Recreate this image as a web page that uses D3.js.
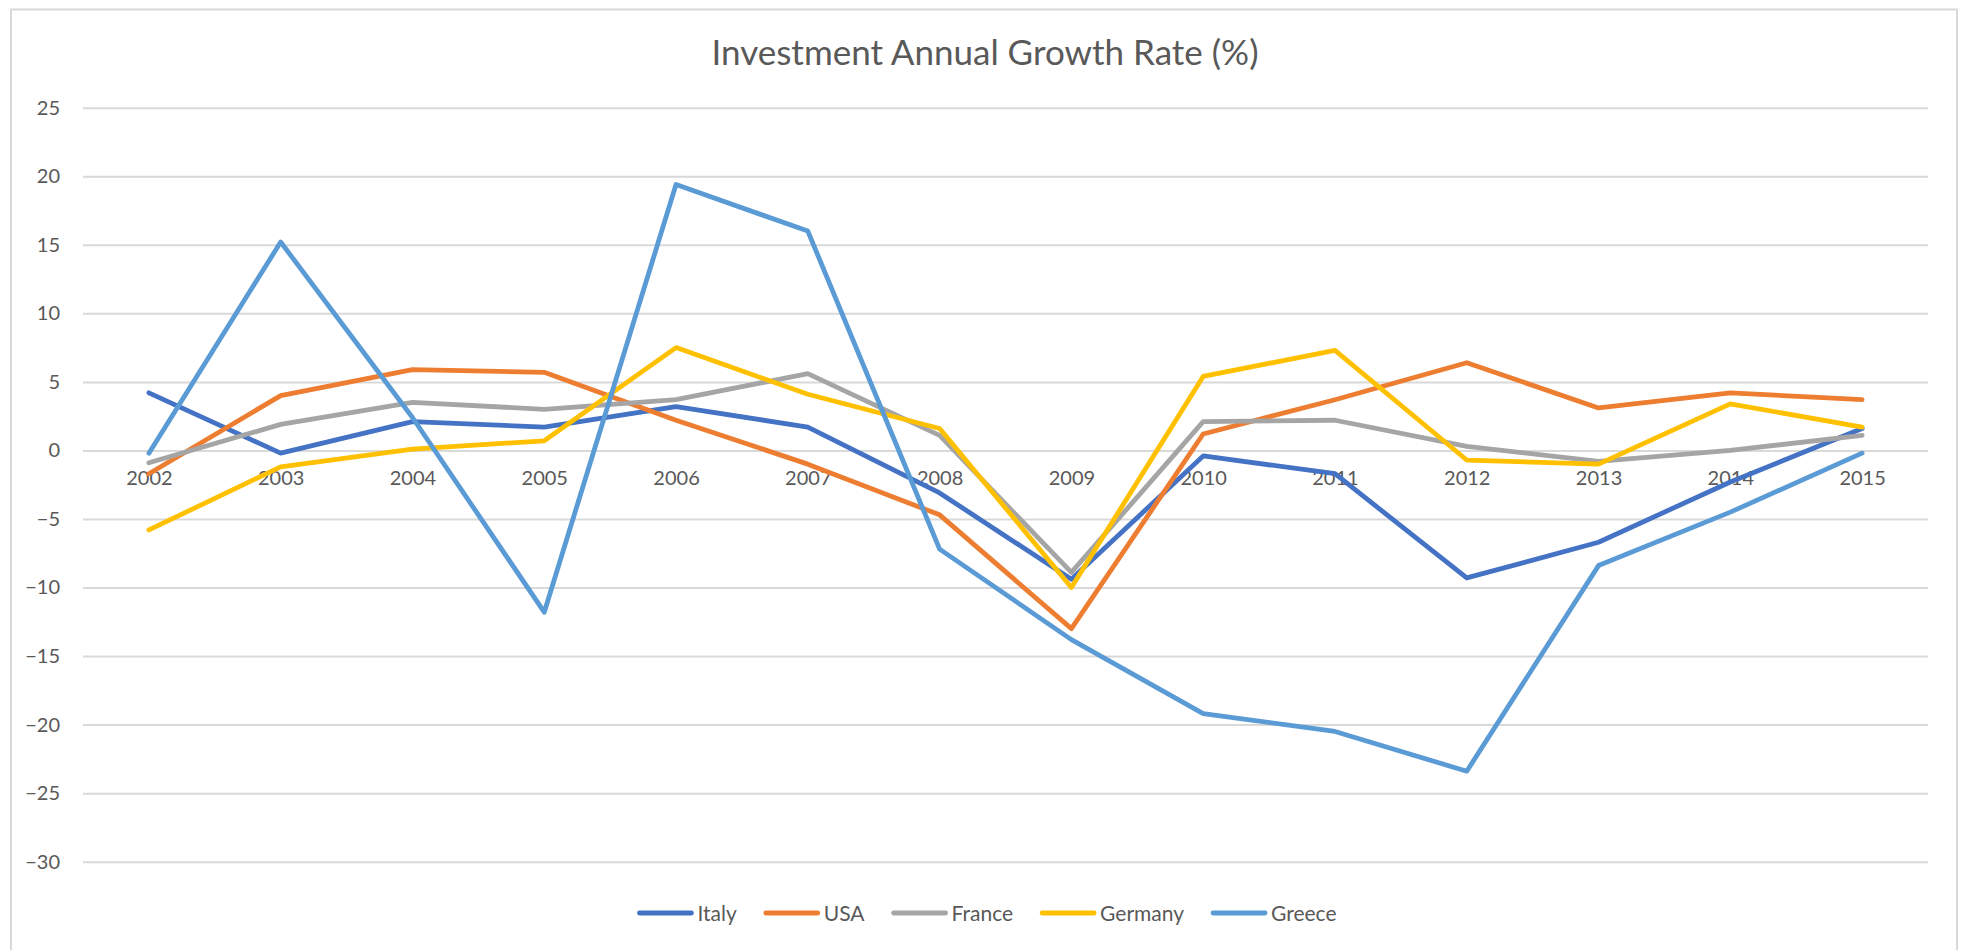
<!DOCTYPE html>
<html>
<head>
<meta charset="utf-8">
<script src="https://cdn.jsdelivr.net/npm/d3@7"></script>
<style>
  body { margin: 0; background: #fff; }
  svg { display: block; font-family: Lato, "Open Sans", sans-serif; }
</style>
</head>
<body>
<div id="chart"></div>
<script>
// values
const years = ['2002', '2003', '2004', '2005', '2006', '2007', '2008', '2009', '2010', '2011', '2012', '2013', '2014', '2015'];
const italy = [4.2, -0.2, 2.1, 1.7, 3.2, 1.7, -3.1, -9.4, -0.4, -1.7, -9.3, -6.7, -2.3, 1.6];
const usa = [-1.7, 4.0, 5.9, 5.7, 2.2, -1.0, -4.7, -13.0, 1.2, 3.7, 6.4, 3.1, 4.2, 3.7];
const france = [-0.9, 1.9, 3.5, 3.0, 3.7, 5.6, 1.1, -8.9, 2.1, 2.2, 0.3, -0.8, 0.0, 1.1];
const germany = [-5.8, -1.2, 0.1, 0.7, 7.5, 4.1, 1.6, -10.0, 5.4, 7.3, -0.7, -1.0, 3.4, 1.7];
const greece = [-0.2, 15.2, 2.4, -11.8, 19.4, 16.0, -7.2, -13.8, -19.2, -20.5, -23.4, -8.4, -4.5, -0.2];
const yTicks = [25, 20, 15, 10, 5, 0, -5, -10, -15, -20, -25, -30];

const series = [
  { name: 'Italy', values: italy, color: '#4472C4' },
  { name: 'USA', values: usa, color: '#ED7D31' },
  { name: 'France', values: france, color: '#A5A5A5' },
  { name: 'Germany', values: germany, color: '#FFC000' },
  { name: 'Greece', values: greece, color: '#5B9BD5' }
];

const W = 1966;
const H = 950;
const plot = { left: 83, right: 1928, top: 107.7, bottom: 861.7 };

const svg = d3.select('#chart')
  .append('svg')
  .attr('width', W)
  .attr('height', H);

// chart border
svg.append('rect')
  .attr('x', 11)
  .attr('y', 9.5)
  .attr('width', 1946)
  .attr('height', 960)
  .attr('fill', 'none')
  .attr('stroke', '#d9d9d9')
  .attr('stroke-width', 2);

const x = d3.scalePoint()
  .domain(years)
  .range([plot.left, plot.right])
  .padding(0.5);

const y = d3.scaleLinear()
  .domain([-30, 25])
  .range([plot.bottom, plot.top]);

// y axis with gridlines
const yAxis = svg.append('g')
  .attr('transform', `translate(${plot.left}, 0)`)
  .call(d3.axisLeft(y)
    .tickValues(yTicks)
    .tickSize(-(plot.right - plot.left))
    .tickPadding(23));
yAxis.select('.domain').remove();
yAxis.selectAll('line')
  .attr('stroke', '#d9d9d9')
  .attr('stroke-width', 2);
yAxis.selectAll('text')
  .attr('fill', '#595959')
  .style('font-size', '20px')
  .style('font-family', 'Lato, sans-serif');

// x labels sit just under the zero line
const xAxis = svg.append('g')
  .attr('transform', `translate(0, ${y(0)})`)
  .call(d3.axisBottom(x).tickSize(0).tickPadding(20));
xAxis.select('.domain').remove();
xAxis.selectAll('text')
  .attr('fill', '#595959')
  .style('font-size', '20px')
  .style('font-family', 'Lato, sans-serif');

// lines
const line = d3.line()
  .x((d, i) => x(years[i]))
  .y(d => y(d));

svg.selectAll('path.series')
  .data(series)
  .enter()
  .append('path')
  .attr('class', 'series')
  .attr('d', d => line(d.values))
  .attr('fill', 'none')
  .attr('stroke', d => d.color)
  .attr('stroke-width', 4.8)
  .attr('stroke-linejoin', 'round')
  .attr('stroke-linecap', 'round');

// title
svg.append('text')
  .attr('x', 985)
  .attr('y', 65)
  .attr('text-anchor', 'middle')
  .attr('fill', '#595959')
  .style('font-size', '35px')
  .text('Investment Annual Growth Rate (%)');

// legend
const legend = svg.append('g');
let lx = 0;
series.forEach(s => {
  const item = legend.append('g').attr('transform', `translate(${lx}, 0)`);
  item.append('line')
    .attr('x1', 2).attr('x2', 54)
    .attr('y1', 0).attr('y2', 0)
    .attr('stroke', s.color)
    .attr('stroke-width', 4.8)
    .attr('stroke-linecap', 'round');
  const t = item.append('text')
    .attr('x', 60)
    .attr('y', 7.5)
    .attr('fill', '#595959')
    .style('font-size', '21px')
    .text(s.name);
  lx += 60 + t.node().getComputedTextLength() + 27;
});
const legendW = lx - 27;
legend.attr('transform', `translate(${987 - legendW / 2}, 913)`);
</script>
</body>
</html>
